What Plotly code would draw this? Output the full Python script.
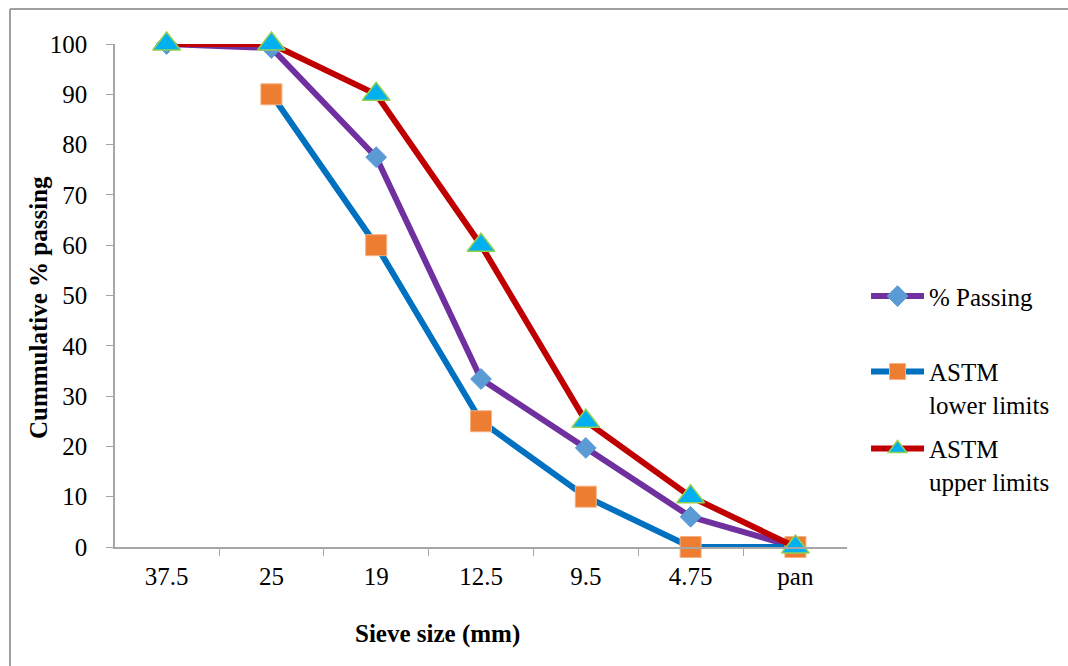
import plotly.graph_objects as go

# Sieve analysis: cumulative % passing vs. sieve size, with ASTM grading limits
sieve_sizes = ["37.5", "25", "19", "12.5", "9.5", "4.75", "pan"]
pct_passing = [100, 99.2, 77.5, 33.4, 19.7, 6.0, 0]
astm_lower = [None, 90, 60, 25, 10, 0, 0]
astm_upper = [100, 100, 90, 60, 25, 10, 0]
y_ticks = [0, 10, 20, 30, 40, 50, 60, 70, 80, 90, 100]

FONT = "Liberation Serif, Times New Roman, serif"
FS = 25
AXIS_GREY = "#A6A6A6"

fig = go.Figure()

fig.add_trace(go.Scatter(
    x=sieve_sizes, y=pct_passing, name="% Passing", mode="lines+markers",
    line=dict(color="#7030A0", width=6),
    marker=dict(symbol="diamond", size=16, color="#5B9BD5",
                line=dict(color="#5B9BD5", width=1)),
    cliponaxis=False, legend="legend",
))
fig.add_trace(go.Scatter(
    x=sieve_sizes, y=astm_lower, name="ASTM<br>lower limits", mode="lines+markers",
    line=dict(color="#0070C0", width=6),
    marker=dict(symbol="square", size=21, color="#ED7D31",
                line=dict(color="#F4B183", width=1)),
    cliponaxis=False, legend="legend2",
))
fig.add_trace(go.Scatter(
    x=sieve_sizes, y=astm_upper, name="ASTM<br>upper limits", mode="lines+markers",
    line=dict(color="#C00000", width=6),
    marker=dict(symbol="triangle-up", size=24, color="#00B0F0",
                line=dict(color="#92D050", width=1.5)),
    cliponaxis=False, legend="legend3",
))

legend_common = dict(
    font=dict(family=FONT, size=FS, color="#000000"),
    bgcolor="rgba(0,0,0,0)", borderwidth=0, valign="top",
    xanchor="left", yanchor="top", itemwidth=53,
)

fig.update_layout(
    width=1068, height=666,
    margin=dict(l=115, r=221, t=44, b=119, autoexpand=False),
    paper_bgcolor="white", plot_bgcolor="white",
    font=dict(family=FONT, size=FS, color="#000000"),
    showlegend=True,
    legend=dict(x=1.026, y=0.544, **legend_common),
    legend2=dict(x=1.026, y=0.394, **legend_common),
    legend3=dict(x=1.026, y=0.241, **legend_common),
    xaxis=dict(
        type="category", categoryorder="array", categoryarray=sieve_sizes,
        showline=True, linecolor=AXIS_GREY, linewidth=1.5,
        ticks="outside", tickson="boundaries", ticklen=7, tickcolor=AXIS_GREY,
        showgrid=False, zeroline=False,
        tickfont=dict(family=FONT, size=FS), ticklabelstandoff=6,
    ),
    yaxis=dict(
        range=[0, 100], tickvals=y_ticks,
        showline=True, linecolor=AXIS_GREY, linewidth=1.5,
        ticks="outside", ticklen=7, tickcolor=AXIS_GREY,
        showgrid=False, zeroline=False,
        tickfont=dict(family=FONT, size=FS), ticklabelstandoff=14,
    ),
    annotations=[
        dict(text="<b>Sieve size (mm)</b>", xref="paper", yref="paper",
             x=(437 - 115) / 732, y=(547 - 634) / 503, showarrow=False,
             xanchor="center", yanchor="middle",
             font=dict(family=FONT, size=FS)),
        dict(text="<b>Cummulative % passing</b>", xref="paper", yref="paper",
             x=(38 - 115) / 732, y=(547 - 308) / 503, showarrow=False,
             textangle=-90, xanchor="center", yanchor="middle",
             font=dict(family=FONT, size=FS)),
    ],
    shapes=[
        # chart frame (top and left edges)
        dict(type="line", xref="paper", yref="paper",
             x0=(10 - 115) / 732, x1=(1068 - 115) / 732,
             y0=(547 - 9) / 503, y1=(547 - 9) / 503,
             line=dict(color="#A0A0A0", width=2)),
        dict(type="line", xref="paper", yref="paper",
             x0=(10 - 115) / 732, x1=(10 - 115) / 732,
             y0=(547 - 9) / 503, y1=(547 - 666) / 503,
             line=dict(color="#A0A0A0", width=2)),
    ],
)

fig.write_html("out.html")
